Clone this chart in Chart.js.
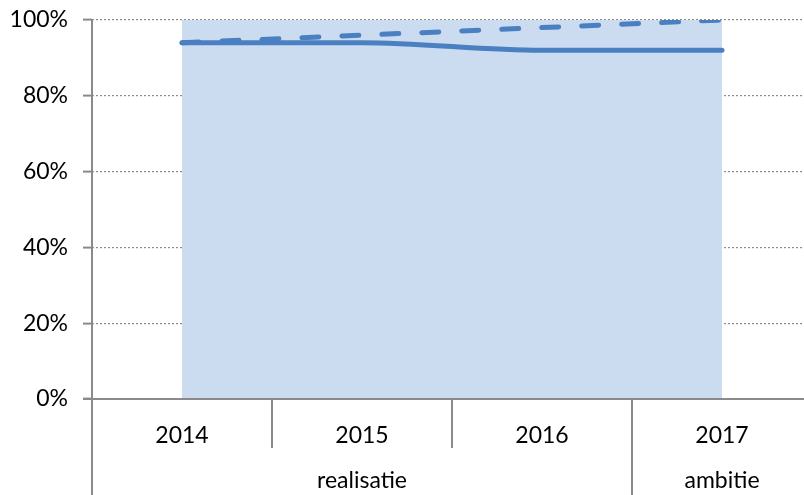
<!DOCTYPE html>
<html>
<head>
<meta charset="utf-8">
<script src="https://cdn.jsdelivr.net/npm/chart.js@4.4.0/dist/chart.umd.min.js"></script>
<style>
  html, body { margin: 0; padding: 0; background: #fff; overflow: hidden; }
  #wrap { width: 830px; height: 495px; }
</style>
</head>
<body>
<div id="wrap"><canvas id="chart" width="830" height="495"></canvas></div>
<script>
// DATA
const years = ["2014", "2015", "2016", "2017"];
const groups = ["realisatie", "realisatie", "realisatie", "ambitie"];
const realisatie = [94, 94, 92, 92];   // doorgetrokken lijn
const ambitie = [94, 96, 98, 100];     // stippellijn
const band = [100, 100, 100, 100];     // lichtblauw vlak
const yTickStep = 20;

const FONT = "Lato";
const FONT_SIZE = 23;
const AXIS_COLOR = "#8a8a8a";
const LINE_COLOR = "#4a7fc1";

// tekent assen, jaartallen, groepslabels en scheidingsstreepjes
const multiLevelAxis = {
    id: "multiLevelAxis",
    afterDraw(chart) {
        const ctx = chart.ctx;
        const x = chart.scales.x;
        const area = chart.chartArea;
        const step = x.getPixelForValue(1) - x.getPixelForValue(0);
        const bottom = chart.height;

        ctx.save();
        ctx.fillStyle = "#000";
        ctx.font = FONT_SIZE + "px " + FONT;
        ctx.textAlign = "center";
        ctx.textBaseline = "middle";

        years.forEach((y, i) => ctx.fillText(y, x.getPixelForValue(i), 436));

        // groepslabels
        let start = 0;
        for (let i = 1; i <= groups.length; i++) {
            if (i === groups.length || groups[i] !== groups[start]) {
                const mid = (x.getPixelForValue(start) + x.getPixelForValue(i - 1)) / 2;
                ctx.fillText(groups[start], mid, 481);
                start = i;
            }
        }

        // assen + scheidingslijnen
        ctx.strokeStyle = AXIS_COLOR;
        ctx.lineWidth = 2;
        ctx.beginPath();
        ctx.moveTo(area.left, area.top);
        ctx.lineTo(area.left, bottom);
        ctx.moveTo(area.left - 9, area.bottom);
        ctx.lineTo(area.right, area.bottom);
        for (let i = 0; i < years.length; i++) {
            const px = x.getPixelForValue(i) + step / 2;
            const long = i === years.length - 1 || groups[i] !== groups[i + 1];
            ctx.moveTo(px, area.bottom);
            ctx.lineTo(px, long ? bottom : 448);
        }
        ctx.stroke();
        ctx.restore();
    }
};

new Chart(document.getElementById("chart"), {
    type: "line",
    data: {
        labels: years,
        datasets: [
            {
                label: "realisatie",
                data: realisatie,
                borderColor: LINE_COLOR,
                borderWidth: 5,
                borderCapStyle: "round",
                cubicInterpolationMode: "monotone",
                pointRadius: 0,
                fill: false,
                order: 1
            },
            {
                label: "ambitie",
                data: ambitie,
                borderColor: LINE_COLOR,
                borderWidth: 5,
                borderDash: [17, 23],
                borderCapStyle: "round",
                pointRadius: 0,
                fill: false,
                order: 2
            },
            {
                label: "band",
                data: band,
                borderWidth: 0,
                borderColor: "rgba(0,0,0,0)",
                backgroundColor: "#cbdcf0",
                pointRadius: 0,
                fill: "origin",
                order: 3
            }
        ]
    },
    options: {
        responsive: false,
        animation: false,
        layout: { padding: { top: 20, right: 18, bottom: 88, left: 0 } },
        plugins: { legend: { display: false }, tooltip: { enabled: false } },
        scales: {
            x: {
                offset: true,
                grid: { display: false },
                ticks: { display: false },
                border: { display: false }
            },
            y: {
                min: 0,
                max: 100,
                z: 1,
                afterFit: s => { s.width = 92; s.paddingTop = 0; s.paddingBottom = 0; },
                ticks: {
                    stepSize: yTickStep,
                    callback: v => v + "%",
                    color: "#000",
                    padding: 15,
                    font: { family: FONT, size: FONT_SIZE }
                },
                grid: {
                    color: "#8c8c8c",
                    lineWidth: 1.2,
                    tickLength: 9,
                    tickColor: AXIS_COLOR,
                    tickBorderDash: [],
                    tickWidth: 2
                },
                border: { display: false, dash: [2, 2] }
            }
        }
    },
    plugins: [multiLevelAxis]
});
</script>
</body>
</html>
